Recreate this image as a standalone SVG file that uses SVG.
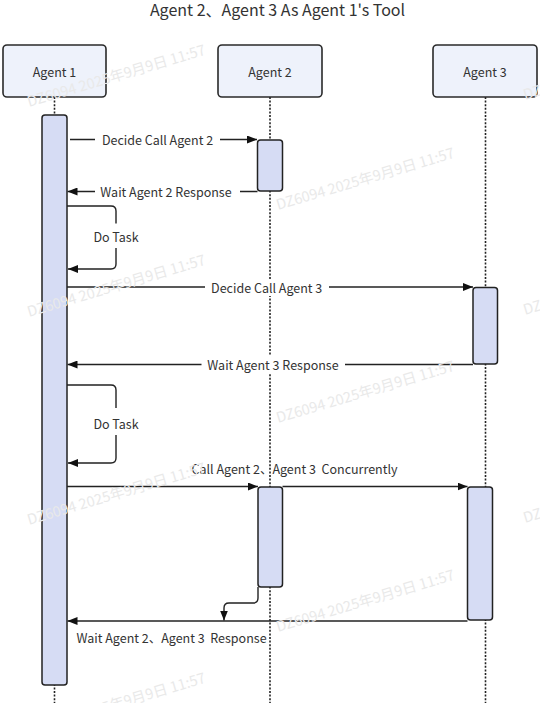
<svg xmlns="http://www.w3.org/2000/svg" width="540" height="703" viewBox="0 0 540 703">
<style>
text{font-family:"Noto Sans CJK SC","Noto Sans",sans-serif;fill:#333;white-space:pre;}
.lbl{font-size:12.5px;dominant-baseline:central;}
.head{fill:#eef2fb;stroke:#2a2a2a;stroke-width:1.6;}
.act{fill:#d6dcf4;stroke:#222;stroke-width:1.5;}
.life{stroke:#222;stroke-width:1.6;stroke-dasharray:2 1.6;fill:none;}
.msg{stroke:#222;stroke-width:1.4;fill:none;}
.bg{fill:#fff;}
.wm{font-size:14.5px;fill:#e9e9e9;}
</style>
<defs>
<marker id="ah" markerUnits="userSpaceOnUse" markerWidth="10" markerHeight="8" refX="10" refY="4" orient="auto">
<path d="M0,0 L10,4 L0,8 z" fill="#111"/>
</marker>
</defs>
<rect width="540" height="703" fill="#fff"/>
<text x="277.5" y="15.5" font-size="16" text-anchor="middle">Agent 2、Agent 3 As Agent 1's Tool</text>

<g id="lifelines">
<line class="life" x1="54.5" y1="97" x2="54.5" y2="703"/>
<line class="life" x1="270" y1="97" x2="270" y2="703"/>
<line class="life" x1="485.5" y1="97" x2="485.5" y2="703"/>
</g>

<g id="agent1">
<rect class="head" x="3" y="45" width="103" height="52" rx="4"/>
<text class="lbl" x="54.5" y="71" text-anchor="middle">Agent 1</text>
<rect class="act" x="42" y="115" width="25" height="570" rx="3"/>
</g>
<g id="agent2">
<rect class="head" x="218" y="45" width="104" height="52" rx="4" stroke-width="2"/>
<text class="lbl" x="270" y="71" text-anchor="middle">Agent 2</text>
<rect class="act" x="257.5" y="140" width="25" height="51" rx="3"/>
<rect class="act" x="258" y="487" width="24.5" height="100" rx="3"/>
</g>
<g id="agent3">
<rect class="head" x="433" y="45" width="104" height="52" rx="4"/>
<text class="lbl" x="485" y="71" text-anchor="middle">Agent 3</text>
<rect class="act" x="473" y="287.5" width="24.5" height="76.5" rx="3"/>
<rect class="act" x="467.5" y="487" width="25" height="133" rx="3"/>
</g>

<g id="connectors">
<line class="msg" x1="70" y1="139.5" x2="257" y2="139.5" marker-end="url(#ah)"/>
<rect class="bg" x="95" y="131" width="125" height="17"/>
<text class="lbl" x="157.5" y="139.5" text-anchor="middle">Decide Call Agent 2</text>

<line class="msg" x1="257.5" y1="191.5" x2="67.5" y2="191.5" marker-end="url(#ah)"/>
<rect class="bg" x="95" y="183" width="145" height="17"/>
<text class="lbl" x="166" y="191.5" text-anchor="middle">Wait Agent 2 Response</text>

<path class="msg" d="M67,206 H111 Q116,206 116,211 V264 Q116,269 111,269 H68" marker-end="url(#ah)"/>
<rect class="bg" x="92" y="223.5" width="48" height="24.5"/>
<text class="lbl" x="116" y="236" text-anchor="middle">Do Task</text>

<line class="msg" x1="67" y1="287" x2="473" y2="287" marker-end="url(#ah)"/>
<rect class="bg" x="205" y="279" width="124" height="17"/>
<text class="lbl" x="266.7" y="287" text-anchor="middle">Decide Call Agent 3</text>

<line class="msg" x1="473" y1="364.5" x2="67.5" y2="364.5" marker-end="url(#ah)"/>
<rect class="bg" x="201.5" y="356" width="143.5" height="17"/>
<text class="lbl" x="273" y="364.5" text-anchor="middle">Wait Agent 3 Response</text>

<path class="msg" d="M67,385 H111 Q116,385 116,390 V458 Q116,463 111,463 H68" marker-end="url(#ah)"/>
<rect class="bg" x="92" y="408" width="48" height="27"/>
<text class="lbl" x="116" y="423" text-anchor="middle">Do Task</text>

<line class="msg" x1="67" y1="486.5" x2="258" y2="486.5" marker-end="url(#ah)"/>
<line class="msg" x1="282.5" y1="486.5" x2="467.5" y2="486.5" marker-end="url(#ah)"/>
<text class="lbl" x="294.5" y="468" text-anchor="middle">Call Agent 2、Agent 3  Concurrently</text>

<line class="msg" x1="467.5" y1="621" x2="67.5" y2="621" marker-end="url(#ah)"/>
<path class="msg" d="M258,587 V598 Q258,603 253,603 H229 Q224,603 224,608 V620.5" marker-end="url(#ah)"/>
<text class="lbl" x="76.5" y="637.7">Wait Agent 2、Agent 3  Response</text>
</g>

<g id="watermarks">
<text class="wm" transform="translate(29,107) rotate(-16.5)">DZ6094 2025年9月9日 11:57</text>
<text class="wm" transform="translate(29,317) rotate(-16.5)">DZ6094 2025年9月9日 11:57</text>
<text class="wm" transform="translate(29,525) rotate(-16.5)">DZ6094 2025年9月9日 11:57</text>
<text class="wm" transform="translate(29,735) rotate(-16.5)">DZ6094 2025年9月9日 11:57</text>
<text class="wm" transform="translate(278,210) rotate(-16.5)">DZ6094 2025年9月9日 11:57</text>
<text class="wm" transform="translate(278,423) rotate(-16.5)">DZ6094 2025年9月9日 11:57</text>
<text class="wm" transform="translate(278,632) rotate(-16.5)">DZ6094 2025年9月9日 11:57</text>
<text class="wm" transform="translate(525,100) rotate(-16.5)">DZ6094 2025年9月9日 11:57</text>
<text class="wm" transform="translate(525,315) rotate(-16.5)">DZ6094 2025年9月9日 11:57</text>
<text class="wm" transform="translate(525,523) rotate(-16.5)">DZ6094 2025年9月9日 11:57</text>
</g>
</svg>
